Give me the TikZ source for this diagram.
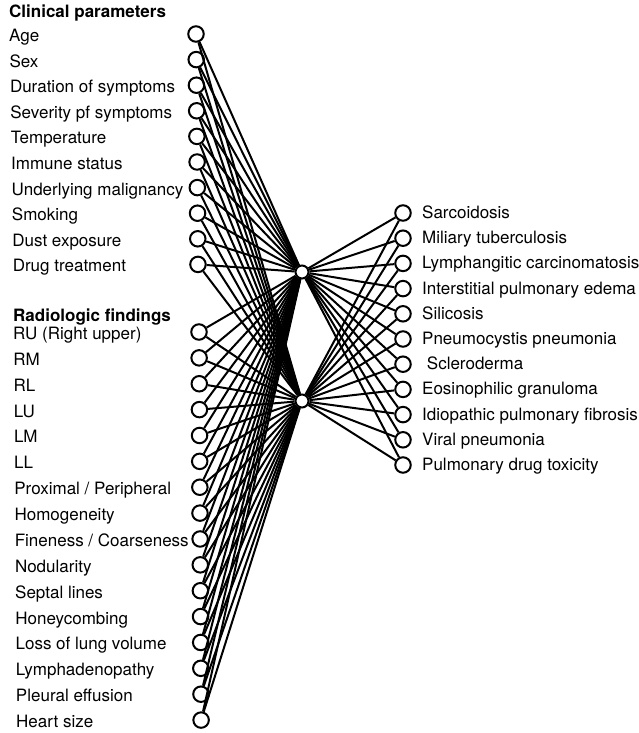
\documentclass[tikz,border=0pt]{standalone}
\usepackage{fontspec}
\setmainfont{TeX Gyre Heros}
\begin{document}
\begin{tikzpicture}[x=1pt,y=-1pt,
  unit/.style={circle,draw,line width=2pt,fill=white,minimum size=15.5pt,inner sep=0pt},
  hid/.style={unit,minimum size=13pt},
  lab/.style={anchor=base west,inner sep=0pt,font=\fontsize{17}{20}\selectfont},
  head/.style={anchor=base west,inner sep=0pt,font=\fontsize{17}{20}\selectfont\bfseries},
  conn/.style={line width=2pt}]
\useasboundingbox (0,0) rectangle (639,733);
% headings
\node[head] (hc) at (9,18) {Clinical parameters};
\node[head] (hr) at (13,321) {Radiologic findings};
% clinical inputs
\foreach \t [count=\i] in {Age,Sex,Duration of symptoms,Severity pf symptoms,Temperature,Immune status,Underlying malignancy,Smoking,Dust exposure,Drug treatment} {
  \pgfmathsetmacro\yy{34+25.6*(\i-1)}
  \pgfmathsetmacro\xx{196+0.22*(\i-1)}
  \pgfmathsetmacro\lx{9+0.4*(\i-1)}
  \node[unit] (c\i) at (\xx,\yy) {};
  \node[lab] (cl\i) at (\lx,\yy+7.5) {\t};
}
% radiologic inputs
\foreach \t [count=\i] in {RU (Right upper),RM,RL,LU,LM,LL,Proximal / Peripheral,Homogeneity,Fineness / Coarseness,Nodularity,Septal lines,Honeycombing,Loss of lung volume,Lymphadenopathy,Pleural effusion,Heart size} {
  \pgfmathsetmacro\yy{332+25.87*(\i-1)}
  \pgfmathsetmacro\xx{199+0.14*(\i-1)}
  \pgfmathsetmacro\lx{13+0.2*(\i-1)}
  \node[unit] (r\i) at (\xx,\yy) {};
  \node[lab] (rl\i) at (\lx,\yy+7.5) {\t};
}
% hidden units
\node[hid] (h1) at (302,272) {};
\node[hid] (h2) at (302,401) {};
% outputs
\foreach \t [count=\i] in {Sarcoidosis,Miliary tuberculosis,Lymphangitic carcinomatosis,Interstitial pulmonary edema,Silicosis,Pneumocystis pneumonia,\ Scleroderma,Eosinophilic granuloma,Idiopathic pulmonary fibrosis,Viral pneumonia,Pulmonary drug toxicity} {
  \pgfmathsetmacro\yy{213+25.2*(\i-1)}
  \node[unit] (o\i) at (403,\yy) {};
  \node[lab] (ol\i) at (422,\yy+5.5) {\t};
}
% connections
\foreach \i in {1,...,10} {
  \draw[conn] (c\i) -- (h1);
  \draw[conn] (c\i) -- (h2);
}
\foreach \i in {1,...,16} {
  \draw[conn] (r\i) -- (h1);
  \draw[conn] (r\i) -- (h2);
}
\foreach \i in {1,...,11} {
  \draw[conn] (h1) -- (o\i);
  \draw[conn] (h2) -- (o\i);
}
\end{tikzpicture}
\end{document}
